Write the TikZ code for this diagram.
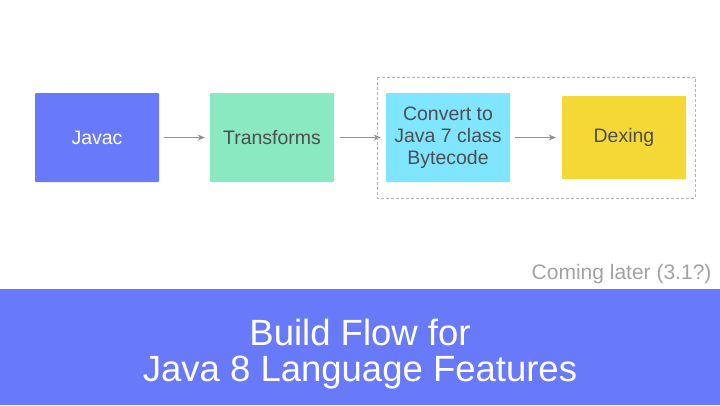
\documentclass[tikz,border=0pt]{standalone}
\usepackage{fontspec}
\setmainfont{Liberation Sans}
\usepackage{tikz}
\usetikzlibrary{arrows.meta}

\definecolor{javacblue}{HTML}{6879FA}
\definecolor{transgreen}{HTML}{8AE9C1}
\definecolor{convcyan}{HTML}{80E5FF}
\definecolor{dexyellow}{HTML}{F4D835}
\definecolor{textgray}{HTML}{4E4E4E}
\definecolor{arrowgray}{HTML}{909090}
\definecolor{notegray}{HTML}{A2A2A2}

\begin{document}
\begin{tikzpicture}[x=1pt,y=-1pt]
        \useasboundingbox (0,0) rectangle (720,405);
        \fill[white] (0,0) rectangle (720,405);
                \begin{scope}[every node/.style={rounded corners=1pt, minimum width=124pt, minimum height=89pt, inner sep=0, align=center, font=\fontsize{19.5}{22}\selectfont, text=textgray}, flow/.style={line width=1.4pt, draw=arrowgray, -{Stealth[length=7pt,width=6pt]}}]
                        \node[fill=javacblue, text=white] (Javac) at (97,137.5) {Javac};
                        \node[fill=transgreen] (Trans) at (272,137.5) {Transforms};
                        \node[fill=convcyan] (Conv) at (448,137.5) {Convert to\\Java 7 class\\Bytecode};
                        \node[fill=dexyellow, minimum height=83pt] (Dex) at (624,137.5) {Dexing};

                        \path (Javac.east) ++(5,0) coordinate (j1) (Trans.west) ++(-5,0) coordinate (t0);
                        \path (Trans.east) ++(6,0) coordinate (t1) (Conv.west) ++(-5,0) coordinate (c0);
                        \path (Conv.east) ++(5,0) coordinate (c1) (Dex.west) ++(-6,0) coordinate (d0);
                        \draw[flow] (j1) -- (t0);
                        \draw[flow] (t1) -- (c0);
                        \draw[flow] (c1) -- (d0);
               \end{scope}
        % dashed group round the last two steps
        \draw[notegray!80, line width=0.8pt, dash pattern=on 3pt off 2pt] (377,77) rectangle (695,198);
        \node[anchor=base east, text=notegray, font=\fontsize{21}{24}\selectfont] (Later) at (715,279) {Coming later (3.1?)};
        % title band
        \fill[javacblue] (0,289) rectangle (720,405);
        \node[text=white, align=center, font=\fontsize{36.5}{36}\selectfont] (Title) at (360,354) {Build Flow for\\Java 8 Language Features};
\end{tikzpicture}
\end{document}
